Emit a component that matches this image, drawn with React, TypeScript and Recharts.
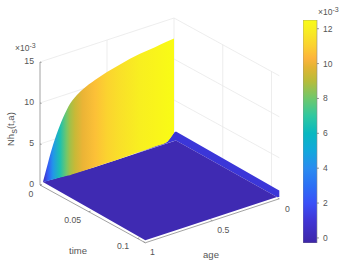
import React from 'react';
import { ComposedChart, BarChart, Bar, Area, Line, Scatter, XAxis, YAxis } from 'recharts';

// Surface (values in units of 1e-3)
const wallAges = [0.978, 0.94, 0.903, 0.851, 0.8, 0.776, 0.739, 0.68, 0.59, 0.5, 0.403, 0.254, 0.142, 0.052, 0];
const wallTop = [0.25, 2.4, 4.35, 6.5, 8.1, 8.7, 9.3, 9.95, 10.6, 11.1, 11.5, 12.0, 12.2, 12.4, 12.5];
const wallBase = [0.25, 0.2, 0.15, 0.1, 0.05, 0, 0, 0, 0, 0, 0, 0.05, 0.1, 0.16, 1];
const TMAX = 0.108;
const timeTicks = [0, 0.05, 0.1];
const ageTicks = [0, 0.5, 1];
const zTicks = [0, 5, 10, 15];
const barTicks = [0, 2, 4, 6, 8, 10, 12];
const barRange = [-0.29, 12.5];
const colorLevels = [-0.29, 1, 2, 3, 4, 5, 6, 7, 8, 9, 9.8, 10.3, 11.0, 11.8, 12.5];
const colorValues = ['#3e26a8', '#4035d5', '#3a50f8', '#2c70f5', '#2a8cf0', '#12a8dc', '#08b8c0', '#30c8a0', '#6fc86c', '#b8bc3a', '#e3b433', '#fdb43c', '#fbd030', '#f8ea24', '#f9fb15'];

const W = 363, H = 273;
const project = (t: number, a: number, z: number) => ({
  x: 174 + 975 * t - 134 * a,
  y: 141 + 535 * t + 44 * a - 8.2 * z,
});
type P = { x: number; y: number };
const lerpY = (pts: P[], x: number) => {
  if (x <= pts[0].x) return pts[0].y;
  for (let i = 1; i < pts.length; i++) {
    if (x <= pts[i].x) {
      const f = (x - pts[i - 1].x) / Math.max(pts[i].x - pts[i - 1].x, 1e-6);
      return pts[i - 1].y + f * (pts[i].y - pts[i - 1].y);
    }
  }
  return pts[pts.length - 1].y;
};
const band = (upper: P[], lower: P[]) => {
  const xs = Array.from(new Set([...upper, ...lower].map((p) => p.x))).sort((a, b) => a - b);
  return xs.map((x) => ({ x, y: lerpY(upper, x), range: [lerpY(upper, x), lerpY(lower, x)] }));
};
const colorAt = (z: number) => {
  let i = 1;
  while (i < colorLevels.length - 1 && z > colorLevels[i]) i++;
  const f = Math.min(1, Math.max(0, (z - colorLevels[i - 1]) / (colorLevels[i] - colorLevels[i - 1])));
  const hex = (s: string, k: number) => parseInt(s.slice(1 + 2 * k, 3 + 2 * k), 16);
  const c = [0, 1, 2].map((k) => Math.round(hex(colorValues[i - 1], k) * (1 - f) + hex(colorValues[i], k) * f));
  return `rgb(${c[0]},${c[1]},${c[2]})`;
};

const wallUpper = wallAges.map((a, i) => project(0, a, wallTop[i]));
const wallLower = wallAges.map((a, i) => project(0, a, wallBase[i]));
const wallData = band(wallUpper, wallLower);

const left = project(0, 0.978, 0.25);
const front = project(TMAX, 1, 0.3);
const rightLow = project(0.107, 0.01, 0.2);
const rightHigh = project(TMAX, 0, 1);
const darkUpper = [left, project(0, 0.6, 0), project(0.002, 0, 0.2), rightLow];
const darkData = band(darkUpper, [left, front, rightLow]);
const lightUpper = [project(0, 0.306, 0.06), project(0, 0.052, 0.16), project(0, 0, 1), project(0.002, 0, 1.3), rightHigh];
const lightData = band(lightUpper, [project(0, 0.306, 0.06), project(0.002, 0, 0.2), rightLow]);

const line = (...pts: P[]) => pts;
const gridLines: P[][] = [
  ...zTicks.filter((z) => z > 0).map((z) => line(project(0, 1, z), project(0, 0, z))),
  ...zTicks.filter((z) => z > 0).map((z) => line(project(0, 0, z), project(TMAX, 0, z))),
  line(project(0, 0.5, 0), project(0, 0.5, 15)),
  line(project(0, 0, 0), project(0, 0, 15)),
  ...timeTicks.filter((t) => t > 0).map((t) => line(project(t, 0, 0), project(t, 0, 15))),
];
const axisLines: P[][] = [
  line(project(0, 1, 0), project(0, 1, 15)),
  line(project(0, 1, 0), project(TMAX, 1, 0)),
  line(project(TMAX, 1, 0), project(TMAX, 0, 0)),
  ...zTicks.map((z) => line(project(0, 1, z), { x: project(0, 1, z).x + 1.5, y: project(0, 1, z).y + 0.5 })),
  ...timeTicks.map((t) => line(project(t, 1, 0), { x: project(t, 1, 0).x + 1.8, y: project(t, 1, 0).y - 0.6 })),
  ...ageTicks.map((a) => line(project(TMAX, a, 0), { x: project(TMAX, a, 0).x - 1.8, y: project(TMAX, a, 0).y - 1 })),
];

const fmt = (v: number) => String(v);
const timeOff = [[-9, 9], [-16, 8.5], [-14.5, 7.5]];
const ageOff = [[8, 10], [11, 9], [7, 9]];
const labels = [
  ...zTicks.map((z) => ({ x: 34, y: project(0, 1, z).y - 1, label: fmt(z), anchor: 'end', size: 8.7 })),
  ...timeTicks.map((t, i) => ({ x: project(t, 1, 0).x + timeOff[i][0], y: project(t, 1, 0).y + timeOff[i][1], label: fmt(t), anchor: 'middle', size: 8.7 })),
  ...ageTicks.map((a, i) => ({ x: project(TMAX, a, 0).x + ageOff[i][0], y: project(TMAX, a, 0).y + ageOff[i][1], label: fmt(a), anchor: 'middle', size: 8.7 })),
  { x: 78, y: 250, label: 'time', anchor: 'middle', size: 9.5 },
  { x: 211, y: 254, label: 'age', anchor: 'middle', size: 9.5 },
];
const FONT = '"Liberation Sans", Arial, sans-serif';
const TEXT = '#555555';

const LabelShape = (p: any) => {
  const d = p.payload ?? p;
  return (
    <text x={p.cx} y={p.cy} textAnchor={d.anchor} dominantBaseline="central" fontSize={d.size} fontFamily={FONT} fill={TEXT}>
      {d.label}
    </text>
  );
};
const Exp = ({ x, y }: { x: number; y: number }) => (
  <text x={x} y={y} fontSize={8.5} fontFamily={FONT} fill={TEXT}>
    ×10<tspan dy={-3} fontSize={7}>-3</tspan>
  </text>
);
const BarTick = (p: any) => (
  <g>
    <line x1={p.x - 8} x2={p.x - 6} y1={p.y} y2={p.y} stroke="#555" strokeWidth={0.6} />
    <text x={p.x - 2} y={p.y} dominantBaseline="central" fontSize={8.5} fontFamily={FONT} fill={TEXT}>{p.payload.value}</text>
  </g>
);

const wallX0 = wallUpper[0].x, wallX1 = wallUpper[wallUpper.length - 1].x;
const barData = [{ name: 'c', range: barRange }];
const chartMargin = { top: 0, right: 0, bottom: 0, left: 0 };

export default function App() {
  return (
    <div style={{ position: 'absolute', left: 0, top: 0, width: W, height: H, background: '#fff' }}>
      <div style={{ position: 'absolute', left: 0, top: 0 }}>
        <ComposedChart width={W} height={H} margin={chartMargin}>
          <XAxis type="number" dataKey="x" domain={[0, W]} hide />
          <YAxis type="number" dataKey="y" domain={[0, H]} reversed hide />
          {gridLines.map((d, i) => (
            <Line key={'g' + i} data={d} dataKey="y" stroke="#e8e8e8" strokeWidth={0.8} dot={false} activeDot={false} isAnimationActive={false} legendType="none" />
          ))}
          {axisLines.map((d, i) => (
            <Line key={'a' + i} data={d} dataKey="y" stroke="#8a8a8a" strokeWidth={0.8} dot={false} activeDot={false} isAnimationActive={false} legendType="none" />
          ))}
          <Scatter data={labels} dataKey="y" shape={LabelShape} isAnimationActive={false} legendType="none" />
        </ComposedChart>
      </div>
      <div style={{ position: 'absolute', left: 0, top: 0 }}>
        <ComposedChart width={W} height={H} margin={chartMargin}>
          <defs>
            <linearGradient id="wallFill" gradientUnits="userSpaceOnUse" x1={wallX0} x2={wallX1} y1={0} y2={0}>
              {wallAges.map((a, i) => (
                <stop key={i} offset={(wallUpper[i].x - wallX0) / (wallX1 - wallX0)} stopColor={colorAt(wallTop[i])} />
              ))}
            </linearGradient>
          </defs>
          <XAxis type="number" dataKey="x" domain={[0, W]} hide />
          <YAxis type="number" dataKey="y" domain={[0, H]} reversed hide />
          <Line data={gridLines[0]} dataKey="y" stroke="none" dot={false} activeDot={false} isAnimationActive={false} legendType="none" />
          <Area data={lightData} dataKey="range" type="linear" fill="#3b36d8" fillOpacity={1} stroke="none" dot={false} activeDot={false} isAnimationActive={false} legendType="none" />
          <Area data={darkData} dataKey="range" type="linear" fill="#3f2ab2" fillOpacity={1} stroke="none" dot={false} activeDot={false} isAnimationActive={false} legendType="none" />
          <Area data={wallData} dataKey="range" type="monotoneX" fill="url(#wallFill)" fillOpacity={1} stroke="none" dot={false} activeDot={false} isAnimationActive={false} legendType="none" />
        </ComposedChart>
      </div>
      <div style={{ position: 'absolute', left: 303, top: 20 }}>
        <BarChart width={50} height={223} data={barData} margin={chartMargin} barCategoryGap={0}>
          <defs>
            <linearGradient id="barFill" x1={0} x2={0} y1={1} y2={0}>
              {colorLevels.map((z, i) => (
                <stop key={i} offset={(z - barRange[0]) / (barRange[1] - barRange[0])} stopColor={colorValues[i]} />
              ))}
            </linearGradient>
          </defs>
          <XAxis dataKey="name" hide />
          <YAxis orientation="right" width={36} domain={barRange} ticks={barTicks} interval={0} axisLine={false} tickLine={false} tick={BarTick} type="number" />
          <Bar dataKey="range" fill="url(#barFill)" stroke="#8a8a8a" strokeWidth={0.6} isAnimationActive={false} />
        </BarChart>
      </div>
      <svg width={W} height={H} style={{ position: 'absolute', left: 0, top: 0, pointerEvents: 'none' }}>
        <Exp x={15} y={51} />
        <Exp x={318} y={15} />
        <text transform="translate(14,146) rotate(-90)" fontSize={9.5} fontFamily={FONT} fill={TEXT}>
          Nh<tspan dy={3}>s</tspan><tspan dy={-3}>(t,a)</tspan>
        </text>
      </svg>
    </div>
  );
}
